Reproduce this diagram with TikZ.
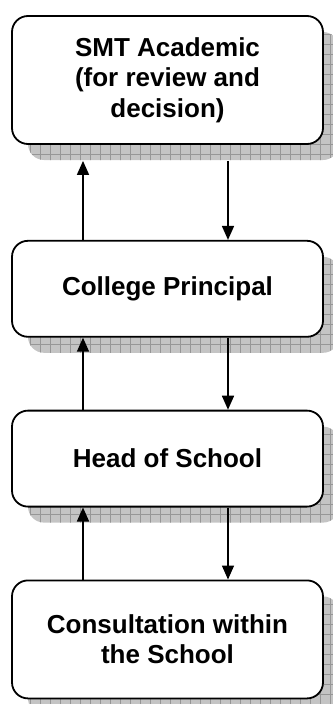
\documentclass[tikz,border=0pt]{standalone}
\usepackage{fontspec}
\setmainfont{Liberation Sans}
\usepackage{tikz}
\usetikzlibrary{positioning}
\usetikzlibrary{calc}
\usetikzlibrary{arrows.meta}
\usetikzlibrary{patterns.meta}

\definecolor{shadowgray}{RGB}{196,196,196}
\definecolor{gridgray}{RGB}{150,150,150}

\tikzset{
    stage/.style={draw, line width=1.8pt, rounded corners=16pt, fill=white,
        minimum width=311pt, align=center,
        font=\fontsize{26}{30.5}\selectfont\bfseries,
        preaction={fill=shadowgray, transform canvas={shift={(16pt,-16pt)}}},
        preaction={pattern={Hatch[angle=0, distance=10pt, line width=0.7pt]},
            pattern color=gridgray, transform canvas={shift={(16pt,-16pt)}}}},
    flow/.style={-{Triangle[width=12pt, length=14pt]}, line width=1.6pt}
}

\begin{document}
\begin{tikzpicture}[x=1pt, y=1pt]
    \useasboundingbox (0,0) rectangle (332,-704);
    \node[stage, minimum height=128pt] (smt) at (167.5,-80)
        {SMT Academic\\(for review and\\decision)};
    \node[stage, minimum height=96pt, below=95pt of smt] (cp) {College Principal};
    \node[stage, minimum height=96pt, below=72pt of cp] (hos) {Head of School};
    \node[stage, minimum height=118pt, below=72pt of hos] (cons)
        {Consultation within\\the School};

    \coordinate (upx) at (83,0);
    \coordinate (dnx) at (228,0);

    \draw[flow] (cp.north -| upx) -- ($(smt.south -| upx)+(0,-16)$);
    \draw[flow] ($(smt.south -| dnx)+(0,-16)$) -- (cp.north -| dnx);
    \draw[flow] (hos.north -| upx) -- (cp.south -| upx);
    \draw[flow] (cp.south -| dnx) -- (hos.north -| dnx);
    \draw[flow] (cons.north -| upx) -- (hos.south -| upx);
    \draw[flow] (hos.south -| dnx) -- (cons.north -| dnx);
\end{tikzpicture}
\end{document}
